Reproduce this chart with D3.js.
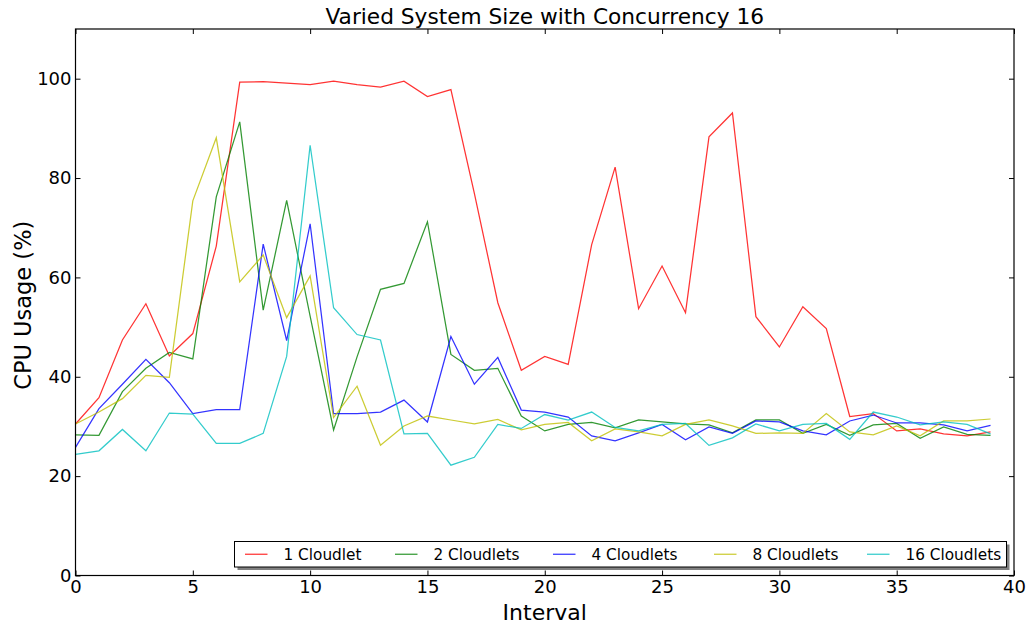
<!DOCTYPE html>
<html><head><meta charset="utf-8">
<script src="https://cdn.jsdelivr.net/npm/d3@7"></script>
<style>
body{margin:0;background:#fff;}
text{font-family:"DejaVu Sans",sans-serif;}
</style></head>
<body><svg id="c" width="1029" height="628"></svg>
<script>
const intervals = d3.range(0, 40);
const seriesNames = ["1 Cloudlet","2 Cloudlets","4 Cloudlets","8 Cloudlets","16 Cloudlets"];
const seriesColors = ["#ff0000","#008000","#0000ff","#bfbf00","#00bfbf"];
const cloudlet1 = [30.5,35.8,47.4,54.7,44.2,48.7,66.3,99.3,99.4,99.1,98.8,99.5,98.8,98.3,99.5,96.4,97.8,76.9,54.9,41.3,44.1,42.5,66.6,82.2,53.7,62.3,52.9,88.3,93.1,52.1,46.0,54.1,49.7,32.0,32.6,29.1,29.5,28.5,28.1,28.9];
const cloudlets2 = [28.3,28.2,37.0,41.7,44.9,43.6,76.2,91.3,53.4,75.5,52.2,29.3,44.0,57.6,58.8,71.2,44.5,41.3,41.7,32.1,29.1,30.4,30.8,29.7,31.3,30.9,30.5,30.3,28.7,31.3,31.3,28.6,30.4,28.2,30.3,30.6,27.6,29.9,28.4,28.2];
const cloudlets4 = [25.8,33.6,38.5,43.5,38.8,32.6,33.4,33.4,66.7,47.3,70.8,32.6,32.6,32.9,35.3,30.9,48.1,38.5,43.9,33.3,32.9,31.9,28.1,27.1,28.7,30.4,27.3,29.9,28.6,31.1,30.9,29.1,28.3,31.1,32.3,30.7,30.7,30.3,29.1,30.2];
const cloudlets8 = [30.5,32.9,35.6,40.3,39.9,75.4,88.1,59.1,64.5,51.9,60.3,31.8,38.1,26.2,30.1,32.1,31.3,30.5,31.4,29.3,30.4,30.8,27.1,29.5,28.9,28.1,30.4,31.3,30.1,28.6,28.7,28.6,32.6,28.9,28.3,30.1,28.1,31.1,31.1,31.5];
const cloudlets16 = [24.4,25.1,29.4,25.1,32.7,32.5,26.6,26.6,28.6,44.1,86.6,53.9,48.5,47.4,28.5,28.6,22.2,23.8,30.4,29.6,32.4,31.3,32.9,29.8,29.1,30.4,30.6,26.2,27.7,30.5,29.1,30.4,30.6,27.4,32.9,31.9,30.3,30.9,30.4,28.5];
const xTicks = [0,5,10,15,20,25,30,35,40];
const yTicks = [0,20,40,60,80,100];
const allSeries = [cloudlet1, cloudlets2, cloudlets4, cloudlets8, cloudlets16];

const svg = d3.select("#c");
const L = 75.5, R = 1014, T = 29, B = 575.5;
const x = d3.scaleLinear().domain([0,40]).range([L,R]);
const y = d3.scaleLinear().domain([0,110]).range([B,T]);

// lines
const line = d3.line().x((d,i)=>x(intervals[i])).y(d=>y(d));
allSeries.forEach((s,k)=>{
  svg.append("path").attr("d", line(s)).attr("fill","none")
    .attr("stroke", seriesColors[k]).attr("stroke-opacity",0.8).attr("stroke-width",1.25);
});

// axes with inward ticks
const fs = "18px";
const gx = svg.append("g").attr("transform",`translate(0,${B})`)
  .call(d3.axisBottom(x).tickValues(xTicks).tickSizeInner(-5).tickSizeOuter(0).tickPadding(5));
const gxt = svg.append("g").attr("transform",`translate(0,${T})`)
  .call(d3.axisTop(x).tickValues(xTicks).tickSizeInner(-5).tickSizeOuter(0).tickFormat(""));
const gy = svg.append("g").attr("transform",`translate(${L},0)`)
  .call(d3.axisLeft(y).tickValues(yTicks).tickSizeInner(-5).tickSizeOuter(0).tickPadding(4));
const gyr = svg.append("g").attr("transform",`translate(${R},0)`)
  .call(d3.axisRight(y).tickValues(yTicks).tickSizeInner(-5).tickSizeOuter(0).tickFormat(""));
[gx,gxt,gy,gyr].forEach(g=>{
  g.select(".domain").remove();
  g.selectAll(".tick line").attr("stroke","#000");
  g.selectAll("text").attr("font-size",fs).attr("font-family","DejaVu Sans").attr("fill","#000");
});
gy.selectAll("text").attr("x",-4);
gx.selectAll("text").attr("y",5).attr("dy","0.71em");

// frame
svg.append("rect").attr("x",L).attr("y",T).attr("width",R-L).attr("height",B-T)
  .attr("fill","none").attr("stroke","#000").attr("stroke-width",1.2);

// title & labels
svg.append("text").attr("x",(L+R)/2).attr("y",24).attr("text-anchor","middle")
  .attr("font-size","21.7px").text("Varied System Size with Concurrency 16");
svg.append("text").attr("x",(L+R)/2).attr("y",620).attr("text-anchor","middle")
  .attr("font-size","22px").text("Interval");
svg.append("text").attr("transform",`translate(30.5,${(T+B)/2 + 3}) rotate(-90)`).attr("text-anchor","middle")
  .attr("font-size","22.5px").text("CPU Usage (%)");

// legend
const lg = svg.append("g");
const lx = 234.5, ly = 541.5, lw = 772, lh = 25.5;
lg.append("rect").attr("x",lx+3).attr("y",ly+3).attr("width",lw).attr("height",lh).attr("fill","#808080");
lg.append("rect").attr("x",lx).attr("y",ly).attr("width",lw).attr("height",lh).attr("fill","#fff").attr("stroke","#000").attr("stroke-width",1);
const itemX = [245, 395, 553, 714, 867];
seriesNames.forEach((n,k)=>{
  lg.append("line").attr("x1",itemX[k]).attr("x2",itemX[k]+22.5).attr("y1",ly+lh/2).attr("y2",ly+lh/2)
    .attr("stroke",seriesColors[k]).attr("stroke-opacity",0.8).attr("stroke-width",1.25);
  lg.append("text").attr("x",itemX[k]+38.5).attr("y",ly+lh/2).attr("dy","0.35em")
    .attr("font-size","15.3px").text(n);
});
</script></body></html>
